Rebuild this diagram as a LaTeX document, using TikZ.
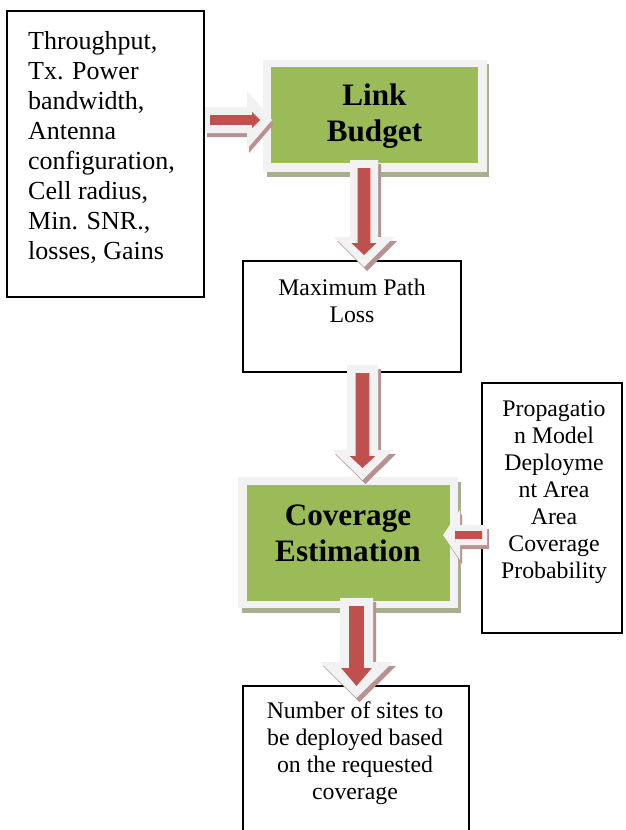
\documentclass[tikz,border=0pt]{standalone}
\usepackage{fontspec}
\setmainfont{Liberation Serif}
\definecolor{grn}{HTML}{9BBB59}
\definecolor{arrred}{HTML}{C0504D}
\definecolor{arrlight}{HTML}{F2F2F2}
\definecolor{arrshadow}{RGB}{184,146,146}
\definecolor{frameshadow}{RGB}{168,174,142}
\tikzset{
  plainbox/.style={draw=black, line width=1.5pt, fill=white, inner sep=0pt},
  inputtxt/.style={font=\fontsize{26}{30}\selectfont, align=left, inner sep=0pt},
  smalltxt/.style={font=\fontsize{23.8}{27}\selectfont, align=center, inner sep=0pt},
  boldtxt/.style={font=\fontsize{31.2}{36}\selectfont\bfseries, align=center, inner sep=0pt},
  lightframe/.style={fill=arrlight, inner sep=0pt},
  greenbox/.style={fill=grn, inner sep=0pt}
}
% vertical block arrow: cx, top, headbase, tip, shaft half width, head half width
\newcommand\BAdown[6]{%
  \pgfmathsetmacro\rsw{#5*0.45}\pgfmathsetmacro\rhw{#6*0.42}%
  \pgfmathsetmacro\rtop{#2+8}\pgfmathsetmacro\rhb{#3+6}\pgfmathsetmacro\rtip{#4-12}%
  \fill[arrshadow,shift={(3,4)}] ({#1-#5},#2) -- ({#1+#5},#2) -- ({#1+#5},#3) -- ({#1+#6},#3) -- (#1,#4) -- ({#1-#6},#3) -- ({#1-#5},#3) -- cycle;
  \fill[arrlight] ({#1-#5},#2) -- ({#1+#5},#2) -- ({#1+#5},#3) -- ({#1+#6},#3) -- (#1,#4) -- ({#1-#6},#3) -- ({#1-#5},#3) -- cycle;
  \fill[arrred] ({#1-\rsw},\rtop) -- ({#1+\rsw},\rtop) -- ({#1+\rsw},\rhb) -- ({#1+\rhw},\rhb) -- (#1,\rtip) -- ({#1-\rhw},\rhb) -- ({#1-\rsw},\rhb) -- cycle;
}
% horizontal block arrow: cy, start x, headbase x, tip x, shaft half, head half
\newcommand\BAhor[6]{%
  \pgfmathsetmacro\rsw{#5*0.38}\pgfmathsetmacro\rhw{#6*0.28}%
  \pgfmathsetmacro\dir{(#4>#2)?1:-1}%
  \pgfmathsetmacro\rst{#2+\dir*5}\pgfmathsetmacro\rhb{#3+\dir*5}\pgfmathsetmacro\rtip{#4-\dir*12}%
  \fill[arrshadow,shift={(2,4)}] (#2,{#1-#5}) -- (#3,{#1-#5}) -- (#3,{#1-#6}) -- (#4,#1) -- (#3,{#1+#6}) -- (#3,{#1+#5}) -- (#2,{#1+#5}) -- cycle;
  \fill[arrlight] (#2,{#1-#5}) -- (#3,{#1-#5}) -- (#3,{#1-#6}) -- (#4,#1) -- (#3,{#1+#6}) -- (#3,{#1+#5}) -- (#2,{#1+#5}) -- cycle;
  \fill[arrred] (\rst,{#1-\rsw}) -- (\rhb,{#1-\rsw}) -- (\rhb,{#1-\rhw}) -- (\rtip,#1) -- (\rhb,{#1+\rhw}) -- (\rhb,{#1+\rsw}) -- (\rst,{#1+\rsw}) -- cycle;
}
\begin{document}
\begin{tikzpicture}[x=1pt,y=-1pt]
\useasboundingbox (0,0) rectangle (626,830);
\fill[white] (0,0) rectangle (626,830);

% input box
\node[plainbox, minimum width=197pt, minimum height=286pt] (inbox) at (105.5,154) {};
\node[inputtxt, anchor=base west] (intxt) at (28,259) {Throughput,\\Tx. Power\\bandwidth,\\Antenna\\configuration,\\Cell radius,\\Min. SNR.,\\losses, Gains};

% Link Budget
\fill[frameshadow] (267,64) rectangle (489,177);
\node[lightframe, minimum width=224pt, minimum height=112pt] (lbframe) at (375,116) {};
\node[greenbox, minimum width=207pt, minimum height=96pt] (lb) at (374.5,115) {};
\node[boldtxt, anchor=base] (lbtxt) at (374.5,141) {Link\\Budget};

% Maximum Path Loss
\node[plainbox, minimum width=218pt, minimum height=111pt] (mpl) at (352,316.5) {};
\node[smalltxt, anchor=base] (mpltxt) at (352,322) {Maximum Path\\Loss};

% Coverage Estimation
\fill[frameshadow] (242,482) rectangle (461,613);
\node[lightframe, minimum width=220pt, minimum height=131pt] (ceframe) at (348,542.5) {};
\node[greenbox, minimum width=203pt, minimum height=116pt] (ce) at (348.5,543) {};
\node[boldtxt, anchor=base] (cetxt) at (348,561) {Coverage\\Estimation};

% right box
\node[plainbox, minimum width=140pt, minimum height=250pt] (prop) at (552,508) {};
\node[smalltxt, anchor=base] (proptxt) at (554,578) {Propagatio\\n Model\\Deployme\\nt Area\\Area\\Coverage\\Probability};

% bottom box
\node[plainbox, minimum width=226pt, minimum height=170pt] (sites) at (356,771) {};
\node[smalltxt, anchor=base] (sitestxt) at (355,799) {Number of sites to\\be deployed based\\on the requested\\coverage};

% block arrows
\BAhor{120}{205}{247}{272}{13}{29}
\BAdown{364}{160}{237}{267}{14}{30}
\BAdown{362.5}{365}{450}{480}{15.5}{30.5}
\BAhor{535}{487}{460}{443}{10}{25}
\BAdown{356.5}{598}{662}{698}{16.5}{36.5}
\end{tikzpicture}
\end{document}
